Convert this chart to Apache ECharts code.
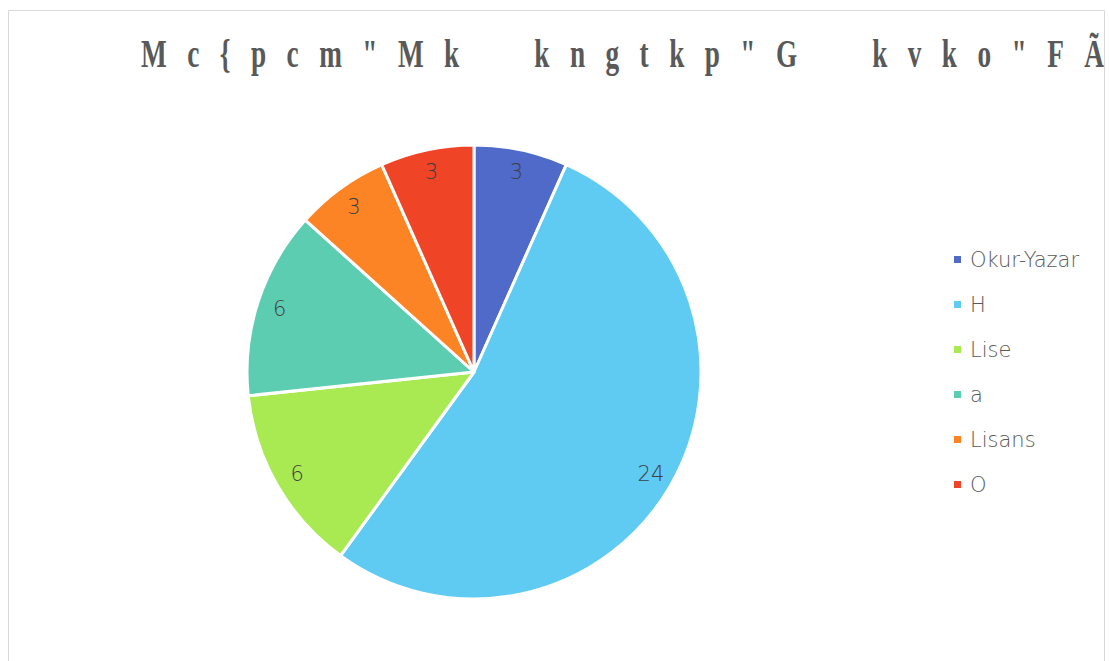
<!DOCTYPE html>
<html>
<head>
<meta charset="utf-8">
<script src="https://cdn.jsdelivr.net/npm/echarts@6/dist/echarts.min.js"></script>
<style>
  html, body { margin: 0; padding: 0; background: #fff; }
  #main { width: 1109px; height: 661px; }
  #main text { white-space: pre; }
</style>
</head>
<body>
<div id="main"></div>
<script>
// ---- data ----
const TITLE = 'Mc{pcm"Mk  kngtkp"G  kvko"FÃ';
const categories = ['Okur-Yazar', 'H', 'Lise', 'a', 'Lisans', 'O'];
const values = [3, 24, 6, 6, 3, 3];
const colors = ['#4F6AC9', '#5FCBF2', '#A9E952', '#5DCDB2', '#FD8424', '#EF4426'];

// ---- layout constants ----
const CX = 474, CY = 372, R = 227, LABEL_R = 0.9;
const TITLE_X = 141, TITLE_W = 963, TITLE_SX = 0.7;
const total = values.reduce((a, b) => a + b, 0);

const chart = echarts.init(document.getElementById('main'), null, { renderer: 'svg' });

chart.setOption({
  animation: false,
  backgroundColor: '#ffffff',
  color: colors,
  graphic: [
    {
      type: 'rect',
      silent: true,
      shape: { x: 8.5, y: 10.5, width: 1096, height: 700 },
      style: { fill: 'none', stroke: '#D9D9D9', lineWidth: 1 }
    },
    {
      type: 'text',
      id: 'title',
      x: TITLE_X,
      y: 34,
      scaleX: TITLE_SX,
      style: {
        text: TITLE,
        font: 'bold 39px "Liberation Serif"',
        fill: '#595959',
        textVerticalAlign: 'top'
      }
    }
  ],
  legend: {
    orient: 'vertical',
    left: 947,
    top: 244,
    icon: 'rect',
    itemWidth: 9,
    itemHeight: 9,
    itemGap: 24,
    selectedMode: false,
    textStyle: {
      color: '#595959',
      fontFamily: 'DejaVu Sans',
      fontWeight: 200,
      fontSize: 21,
      lineHeight: 21,
      padding: [0, 0, 0, 3]
    },
    data: categories
  },
  series: [{
    type: 'pie',
    center: [CX, CY],
    radius: R,
    startAngle: 90,
    clockwise: true,
    avoidLabelOverlap: false,
    itemStyle: { borderColor: '#ffffff', borderWidth: 3 },
    label: {
      show: true,
      position: 'inside',
      formatter: '{c}',
      color: '#404040',
      fontFamily: 'DejaVu Sans',
      fontWeight: 200,
      fontSize: 21
    },
    labelLine: { show: false },
    labelLayout: function (p) {
      const i = p.dataIndex;
      let cum = 0;
      for (let k = 0; k < i; k++) cum += values[k];
      const a = (cum + values[i] / 2) / total * 2 * Math.PI;
      return {
        x: CX + LABEL_R * R * Math.sin(a),
        y: CY - LABEL_R * R * Math.cos(a),
        align: 'center',
        verticalAlign: 'middle'
      };
    },
    data: categories.map((c, i) => ({ name: c, value: values[i] }))
  }]
});

function spaceTitle() {
  document.querySelectorAll('#main text').forEach(t => {
    if (t.textContent === TITLE) {
      t.style.whiteSpace = 'pre';
      t.setAttribute('textLength', String(TITLE_W / TITLE_SX));
      t.setAttribute('lengthAdjust', 'spacing');
    }
  });
}
chart.on('finished', spaceTitle);
spaceTitle();
</script>
</body>
</html>
